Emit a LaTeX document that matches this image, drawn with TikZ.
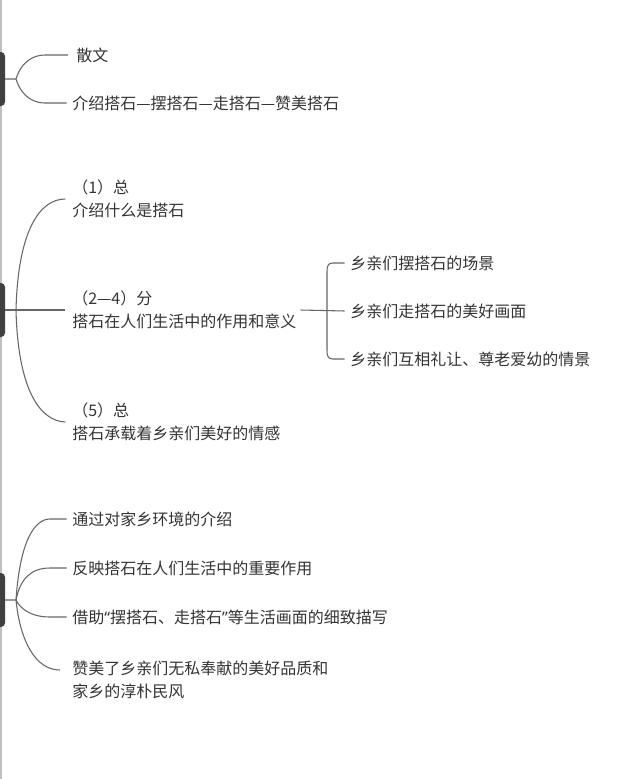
\documentclass[tikz,border=0pt]{standalone}
\usepackage{fontspec}
\setmainfont{Noto Sans CJK SC}
\newfontfamily\latinq{Noto Sans}
\begin{document}
\begin{tikzpicture}[x=0.75pt,y=-0.75pt,
  conn/.style={draw=black!60,line width=0.8pt},
  lbl/.style={anchor=west,inner sep=0pt,font=\fontsize{12pt}{17pt}\selectfont,text=black!80,align=left},
  hub/.style={fill=black!75,rounded corners=3pt}]
\useasboundingbox (0,0) rectangle (640,779);
\draw[black!25,line width=1pt] (1,0) -- (1,779);
\fill[hub] (-10,52) rectangle (5,106);
\fill[hub] (-10,283) rectangle (5,337);
\fill[hub] (-10,573) rectangle (5,627);
% section 1
\coordinate (h1) at (5,79);
\node[lbl] (a1) at (76,55) {散文};
\node[lbl] (a2) at (72,103) {介绍搭石—摆搭石—走搭石—赞美搭石};
\draw[conn] (h1) -- (16,79) .. controls (22,60) and (35,55) .. (45,55) -- ([xshift=-6pt]a1.west);
\draw[conn] (16,79) .. controls (22,98) and (35,103) .. (45,103) -- ([xshift=-4pt]a2.west);
% section 2
\coordinate (h2) at (5,310);
\node[lbl] (b1) at (72,199) {（1）总\\介绍什么是搭石};
\node[lbl] (b2) at (72,310) {（2—4）分\\搭石在人们生活中的作用和意义};
\node[lbl] (b3) at (72,422) {（5）总\\搭石承载着乡亲们美好的情感};
\draw[conn] (h2) -- ([xshift=-5pt]b2.west);
\draw[conn] (16,310) .. controls (18,230) and (40,199) .. ([xshift=-5pt]b1.west);
\draw[conn] (16,310) .. controls (18,390) and (40,421) .. ([xshift=-5pt]b3.west);
\node[lbl] (c1) at (350,263) {乡亲们摆搭石的场景};
\node[lbl] (c2) at (350,311) {乡亲们走搭石的美好画面};
\node[lbl] (c3) at (350,359) {乡亲们互相礼让、尊老爱幼的情景};
\draw[conn] ([xshift=3pt]b2.east) -- ([xshift=-4pt]c2.west);
\draw[conn] ([xshift=-4pt]c1.west) -- (333,263) .. controls (328,263) and (327,266) .. (327,272) -- (327,350) .. controls (327,356) and (328,359) .. (333,359) -- ([xshift=-4pt]c3.west);
% section 3
\coordinate (h3) at (5,600);
\node[lbl] (d1) at (72,519) {通过对家乡环境的介绍};
\node[lbl] (d2) at (72,568) {反映搭石在人们生活中的重要作用};
\node[lbl] (d3) at (72,617) {借助{\latinq“}摆搭石、走搭石{\latinq”}等生活画面的细致描写};
\node[lbl] (d4) at (72,680) {赞美了乡亲们无私奉献的美好品质和\\家乡的淳朴民风};
\draw[conn] (h3) -- (16,600) .. controls (20,540) and (35,519) .. (50,519) -- ([xshift=-4pt]d1.west);
\draw[conn] (16,600) .. controls (20,580) and (30,568) .. (50,568) -- ([xshift=-4pt]d2.west);
\draw[conn] (16,600) .. controls (20,608) and (30,617) .. (50,617) -- ([xshift=-4pt]d3.west);
\draw[conn] (16,600) .. controls (20,640) and (35,670) .. (60,670);
\end{tikzpicture}
\end{document}
